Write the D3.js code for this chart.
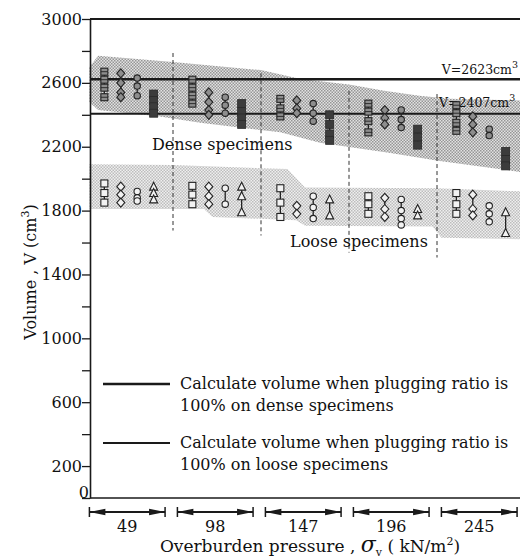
<!DOCTYPE html>
<html>
<head>
<meta charset="utf-8">
<script src="https://cdn.jsdelivr.net/npm/d3@7"></script>
<style>
  body { margin: 0; background: #fff; }
  svg { display: block; font-family: "DejaVu Serif", serif; }
</style>
</head>
<body>
<svg id="chart"></svg>
<script>
// ---- data ----
const pressures = ["49", "98", "147", "196", "245"];
const denseKinds = ["square", "diamond", "circle", "block"];
const looseKinds = ["square", "diamond", "circle", "triangle"];

// dense specimens, one list per pressure
const denseSquare  = [[2670, 2620, 2570, 2510], [2620, 2570, 2520, 2470], [2500, 2440, 2390], [2470, 2420, 2360, 2290], [2460, 2410, 2350, 2300]];
const denseDiamond = [[2660, 2600, 2540, 2510], [2540, 2480, 2430, 2400], [2490, 2440, 2410], [2430, 2380, 2340], [2390, 2340, 2290]];
const denseCircle  = [[2630, 2580, 2520], [2510, 2460, 2410], [2470, 2410, 2360], [2430, 2370, 2320], [2310, 2270]];
const denseBlock   = [[2530, 2490, 2450, 2410], [2470, 2420, 2380, 2340], [2400, 2340, 2280, 2240], [2310, 2260, 2210], [2170, 2120, 2080]];

// loose specimens
const looseSquare   = [[1970, 1910, 1850], [1955, 1900, 1840], [1940, 1850, 1760], [1890, 1840, 1780], [1910, 1840, 1780]];
const looseDiamond  = [[1950, 1900, 1850], [1950, 1890, 1840], [1830, 1780], [1880, 1810, 1760], [1900, 1810, 1770]];
const looseCircle   = [[1920, 1880, 1860], [1940, 1840], [1890, 1820, 1750], [1870, 1800, 1750, 1710], [1830, 1780, 1730]];
const looseTriangle = [[1950, 1910, 1870], [1950, 1890, 1790], [1870, 1770], [1810, 1770], [1790, 1660]];

// shaded bands (x in pressure-group units, value in cm3)
const denseTopU = [0.05, 0.15, 1, 2, 2.45, 3, 3.4, 3.8, 4.15, 4.97];
const denseTopV = [2700, 2770, 2730, 2680, 2625, 2590, 2550, 2520, 2500, 2490];
const denseBotU = [4.97, 4.03, 3.47, 2.67, 2.22, 1.31, 0.85, 0.15, 0.05];
const denseBotV = [2040, 2110, 2160, 2225, 2290, 2350, 2390, 2430, 2480];
const looseTopU = [0.05, 1, 2.3, 2.5, 4, 4.97];
const looseTopV = [2090, 2085, 2060, 1945, 1940, 1920];
const looseBotU = [4.97, 4.05, 3.95, 2.5, 2.4, 1.45, 1.35, 0.05];
const looseBotV = [1620, 1630, 1700, 1705, 1740, 1760, 1810, 1810];

// dashed group separators
const sepAt = [1, 2, 3, 4];
const sepTop = [2787, 2660, 2550, 2530];
const sepBottom = [1675, 1644, 1537, 1506];

const refVolumes = [2623, 2407];
const refLabels = ["V=2623cm", "V=2407cm"];
const yTicks = d3.range(0, 3001, 200);
const yLabelled = [0, 200, 600, 1000, 1400, 1800, 2200, 2600, 3000];

const legendLines = [
  ["Calculate volume when plugging ratio is", "100% on dense specimens"],
  ["Calculate volume when plugging ratio is", "100% on loose specimens"]
];

// ---- layout ----
const W = 520, H = 558;
const svg = d3.select("#chart").attr("width", W).attr("height", H);

const x = d3.scaleLinear().domain([0, 5]).range([85, 525]);
const y = d3.scaleLinear().domain([0, 3000]).range([498, 19]);
const inner = d3.scalePoint().domain([0, 1, 2, 3]).range([0.22, 0.78]);
const axisX = 90, rightX = 520;

// stipple patterns
const defs = svg.append("defs");
function stipple(id, dark, light) {
  const p = defs.append("pattern").attr("id", id)
      .attr("patternUnits", "userSpaceOnUse").attr("width", 3).attr("height", 3);
  p.append("rect").attr("width", 3).attr("height", 3).attr("fill", light);
  p.append("rect").attr("width", 1.5).attr("height", 1.5).attr("fill", dark);
  p.append("rect").attr("x", 1.5).attr("y", 1.5).attr("width", 1.5).attr("height", 1.5).attr("fill", dark);
}
stipple("denseDots", "#969696", "#e2e2e2");
stipple("looseDots", "#bdbdbd", "#efefef");

// bands
const area = (tu, tv, bu, bv) => {
  const pts = tu.map((u, i) => [x(u), y(tv[i])]).concat(bu.map((u, i) => [x(u), y(bv[i])]));
  return d3.line().curve(d3.curveLinearClosed)(pts);
};
svg.append("path").attr("d", area(looseTopU, looseTopV, looseBotU, looseBotV)).attr("fill", "url(#looseDots)");
svg.append("path").attr("d", area(denseTopU, denseTopV, denseBotU, denseBotV)).attr("fill", "url(#denseDots)");

// separators
svg.selectAll(".sep").data(sepAt).join("line")
    .attr("class", "sep")
    .attr("x1", d => x(d)).attr("x2", d => x(d))
    .attr("y1", (d, i) => y(sepTop[i])).attr("y2", (d, i) => y(sepBottom[i]))
    .attr("stroke", "#333").attr("stroke-width", 1).attr("stroke-dasharray", "4,3");

// reference lines
svg.selectAll(".ref").data(refVolumes).join("line")
    .attr("class", "ref")
    .attr("x1", axisX).attr("x2", rightX)
    .attr("y1", d => y(d)).attr("y2", d => y(d))
    .attr("stroke", "#1a1a1a").attr("stroke-width", (d, i) => i === 0 ? 2.6 : 2);

const refText = svg.append("g").attr("font-size", 12.5).attr("fill", "#111");
const t1 = refText.append("text").attr("x", 518).attr("y", y(refVolumes[0]) - 5).attr("text-anchor", "end");
t1.append("tspan").text(refLabels[0]);
t1.append("tspan").attr("dy", -6).attr("font-size", 9.5).text("3");
const t2 = refText.append("text").attr("x", 439).attr("y", y(refVolumes[1]) - 7);
t2.append("tspan").text(refLabels[1]);
t2.append("tspan").attr("dy", -6).attr("font-size", 9.5).text("3");

// markers
function drawSeries(lists, kinds, dense) {
  const g = svg.append("g");
  kinds.forEach((kind, k) => {
    lists[k].forEach((vals, gi) => {
      const cx = x(gi + inner(k));
      const lo = d3.min(vals), hi = d3.max(vals);
      g.append("line").attr("x1", cx).attr("x2", cx).attr("y1", y(hi)).attr("y2", y(lo))
          .attr("stroke", "#222").attr("stroke-width", 1.3);
      vals.forEach(v => {
        const cy = y(v);
        const fill = dense ? "#8d8d8d" : "#f2f2f2";
        if (kind === "square") {
          g.append("rect").attr("x", cx - 3.5).attr("y", cy - 3.5).attr("width", 7).attr("height", 7)
              .attr("fill", fill).attr("stroke", "#222").attr("stroke-width", 1.1);
          if (dense) g.append("line").attr("x1", cx - 3.5).attr("x2", cx + 3.5).attr("y1", cy).attr("y2", cy)
              .attr("stroke", "#222").attr("stroke-width", 0.9);
        } else if (kind === "diamond") {
          g.append("path").attr("d", `M${cx},${cy - 4.5}L${cx + 4},${cy}L${cx},${cy + 4.5}L${cx - 4},${cy}Z`)
              .attr("fill", fill).attr("stroke", "#222").attr("stroke-width", 1.1);
        } else if (kind === "circle") {
          g.append("circle").attr("cx", cx).attr("cy", cy).attr("r", 3.2)
              .attr("fill", fill).attr("stroke", "#222").attr("stroke-width", 1.1);
        } else if (kind === "triangle") {
          g.append("path").attr("d", `M${cx},${cy - 4.5}L${cx + 4},${cy + 3.5}L${cx - 4},${cy + 3.5}Z`)
              .attr("fill", fill).attr("stroke", "#222").attr("stroke-width", 1.1);
        } else if (kind === "block") {
          g.append("rect").attr("x", cx - 4).attr("y", cy - 4).attr("width", 8).attr("height", 8)
              .attr("fill", "#3c3c3c").attr("stroke", "#2a2a2a").attr("stroke-width", 0.8);
        }
      });
    });
  });
}
drawSeries([denseSquare, denseDiamond, denseCircle, denseBlock], denseKinds, true);
drawSeries([looseSquare, looseDiamond, looseCircle, looseTriangle], looseKinds, false);

// frame
svg.append("line").attr("x1", axisX).attr("x2", rightX).attr("y1", y(3000)).attr("y2", y(3000))
    .attr("stroke", "#1a1a1a").attr("stroke-width", 1.8);
svg.append("line").attr("x1", axisX).attr("x2", rightX).attr("y1", y(0)).attr("y2", y(0))
    .attr("stroke", "#1a1a1a").attr("stroke-width", 1.6);

// y axis
const yAxis = d3.axisLeft(y).tickValues(yTicks).tickSize(8).tickSizeOuter(0)
    .tickFormat(d => yLabelled.includes(d) ? d : "");
const yAxisG = svg.append("g").attr("transform", `translate(${axisX},0)`).call(yAxis);
yAxisG.select(".domain").attr("stroke", "#1a1a1a").attr("stroke-width", 1.6);
yAxisG.selectAll(".tick line").attr("stroke", "#1a1a1a").attr("stroke-width", 1.3);
yAxisG.selectAll(".tick text").attr("font-family", "DejaVu Serif").attr("font-size", 16)
    .attr("fill", "#111").attr("x", -8);
yAxisG.selectAll(".tick").filter(d => d === 0).select("text").attr("x", -1).attr("dy", "-0.05em");

// y title
const yTitle = svg.append("text").attr("transform", `translate(36,272) rotate(-90)`)
    .attr("text-anchor", "middle").attr("font-size", 16).attr("fill", "#111");
yTitle.append("tspan").text("Volume , V (cm");
yTitle.append("tspan").attr("dy", -7).attr("font-size", 11).text("3");
yTitle.append("tspan").attr("dy", 7).text(")");

// pressure arrows
const arrowY = 512;
const arrows = svg.append("g");
pressures.forEach((p, i) => {
  const a = x(i + 0.05), b = x(i + 0.91);
  arrows.append("line").attr("x1", a).attr("x2", b).attr("y1", arrowY).attr("y2", arrowY)
      .attr("stroke", "#1a1a1a").attr("stroke-width", 1.8);
  [a, b].forEach(e => arrows.append("line").attr("x1", e).attr("x2", e)
      .attr("y1", arrowY - 5).attr("y2", arrowY + 5).attr("stroke", "#1a1a1a").attr("stroke-width", 1.5));
  arrows.append("path").attr("d", `M${a},${arrowY}L${a + 16},${arrowY - 3.2}L${a + 16},${arrowY + 3.2}Z`).attr("fill", "#1a1a1a");
  arrows.append("path").attr("d", `M${b},${arrowY}L${b - 16},${arrowY - 3.2}L${b - 16},${arrowY + 3.2}Z`).attr("fill", "#1a1a1a");
  arrows.append("text").attr("x", (a + b) / 2).attr("y", 532).attr("text-anchor", "middle")
      .attr("font-size", 16).attr("fill", "#111").text(p);
});

// x title
const xTitle = svg.append("text").attr("x", 310).attr("y", 552).attr("text-anchor", "middle")
    .attr("font-size", 17).attr("fill", "#111");
xTitle.append("tspan").text("Overburden pressure ,  ");
xTitle.append("tspan").attr("font-style", "italic").attr("font-size", 22).text("σ");
xTitle.append("tspan").attr("dy", 4).attr("font-size", 11).text("v");
xTitle.append("tspan").attr("dy", -4).text(" ( kN/m");
xTitle.append("tspan").attr("dy", -7).attr("font-size", 11).text("2");
xTitle.append("tspan").attr("dy", 7).text(")");

// band labels
svg.append("text").attr("x", x(0.76)).attr("y", y(2179)).attr("font-size", 16).attr("fill", "#111").text("Dense specimens");
svg.append("text").attr("x", x(2.33)).attr("y", y(1572)).attr("font-size", 16).attr("fill", "#111").text("Loose specimens");

// legend
const legend = svg.append("g").attr("font-size", 16).attr("fill", "#111");
legendLines.forEach((lines, i) => {
  const ly = i === 0 ? 384 : 443;
  legend.append("line").attr("x1", 103).attr("x2", 170).attr("y1", ly).attr("y2", ly)
      .attr("stroke", "#1a1a1a").attr("stroke-width", i === 0 ? 2.6 : 2);
  legend.append("text").attr("x", 180).attr("y", ly + 5).text(lines[0]);
  legend.append("text").attr("x", 180).attr("y", ly + 27).text(lines[1]);
});
</script>
</body>
</html>
